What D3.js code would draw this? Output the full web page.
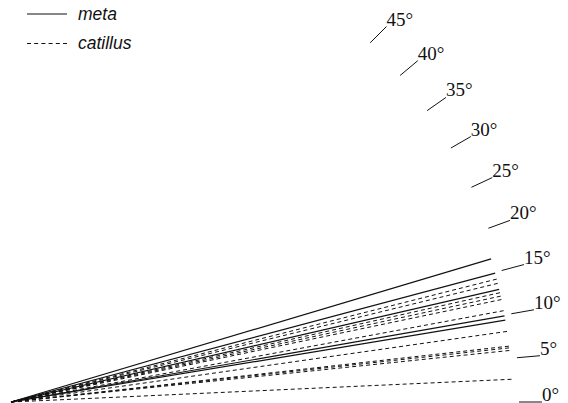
<!DOCTYPE html>
<html>
<head>
<meta charset="utf-8">
<script src="https://cdn.jsdelivr.net/npm/d3@7"></script>
<style>
  html, body { margin: 0; padding: 0; background: #fff; }
  svg { display: block; }
</style>
</head>
<body>
<svg id="chart" width="568" height="403"></svg>
<script>
// ---- data (angles in degrees, lengths normalised) ----
const metaAngles = [16.6, 14.9, 13.0, 9.9, 9.4];
const catillusAngles = [14.2, 13.7, 12.6, 12.2, 11.8, 10.5, 8.1, 6.4, 6.2, 5.9, 2.6];
const tickAngles = [0, 5, 10, 15, 20, 25, 30, 35, 40, 45];
const tickLabels = ["0°", "5°", "10°", "15°", "20°", "25°", "30°", "35°", "40°", "45°"];
const seriesNames = ["meta", "catillus"];

const W = 568, H = 403;
const origin = { x: 11, y: 402 };
const svg = d3.select("#chart");

const ang = d3.scaleLinear().domain([0, 90]).range([0, Math.PI / 2]);
const rad = d3.scaleLinear().domain([0, 1]).range([0, 501]);

const px = (a, r) => origin.x + rad(r) * Math.cos(ang(a));
const py = (a, r) => origin.y - rad(r) * Math.sin(ang(a));

const g = svg.append("g");

// catillus dashed
g.selectAll("line.cat").data(catillusAngles).join("line")
  .attr("class", "cat")
  .attr("x1", origin.x).attr("y1", origin.y)
  .attr("x2", d => px(d, 1)).attr("y2", d => py(d, 1))
  .attr("stroke", "#111").attr("stroke-width", 1)
  .attr("stroke-dasharray", "4,3");

// meta solid
g.selectAll("line.meta").data(metaAngles).join("line")
  .attr("class", "meta")
  .attr("x1", origin.x).attr("y1", origin.y)
  .attr("x2", d => px(d, 1)).attr("y2", d => py(d, 1))
  .attr("stroke", "#111").attr("stroke-width", 1.2);

// angle ticks
const r1 = 508 / 501, r2 = 531 / 501;
const ticks = g.selectAll("g.tick").data(tickAngles).join("g").attr("class", "tick");
ticks.append("line")
  .attr("x1", d => px(d, r1)).attr("y1", d => py(d, r1))
  .attr("x2", d => px(d, r2)).attr("y2", d => py(d, r2))
  .attr("stroke", "#111").attr("stroke-width", 1);
ticks.append("text")
  .attr("x", d => px(d, r2)).attr("y", d => py(d, r2) - 1)
  .attr("font-family", "Liberation Serif, Times New Roman, serif")
  .attr("font-size", 19)
  .attr("fill", "#111")
  .text((d, i) => tickLabels[i]);

// legend
const leg = svg.append("g");
const legY = [14, 43.5];
seriesNames.forEach((name, i) => {
  leg.append("line")
    .attr("x1", 27).attr("x2", 67)
    .attr("y1", legY[i]).attr("y2", legY[i])
    .attr("stroke", "#111")
    .attr("stroke-width", i === 0 ? 1.2 : 1)
    .attr("stroke-dasharray", i === 0 ? null : "4,3.2");
  leg.append("text")
    .attr("x", 78).attr("y", legY[i] + 5.5)
    .attr("font-family", "Liberation Sans, Arial, sans-serif")
    .attr("font-style", "italic")
    .attr("font-size", 17.5)
    .attr("fill", "#111")
    .text(name);
});
</script>
</body>
</html>
